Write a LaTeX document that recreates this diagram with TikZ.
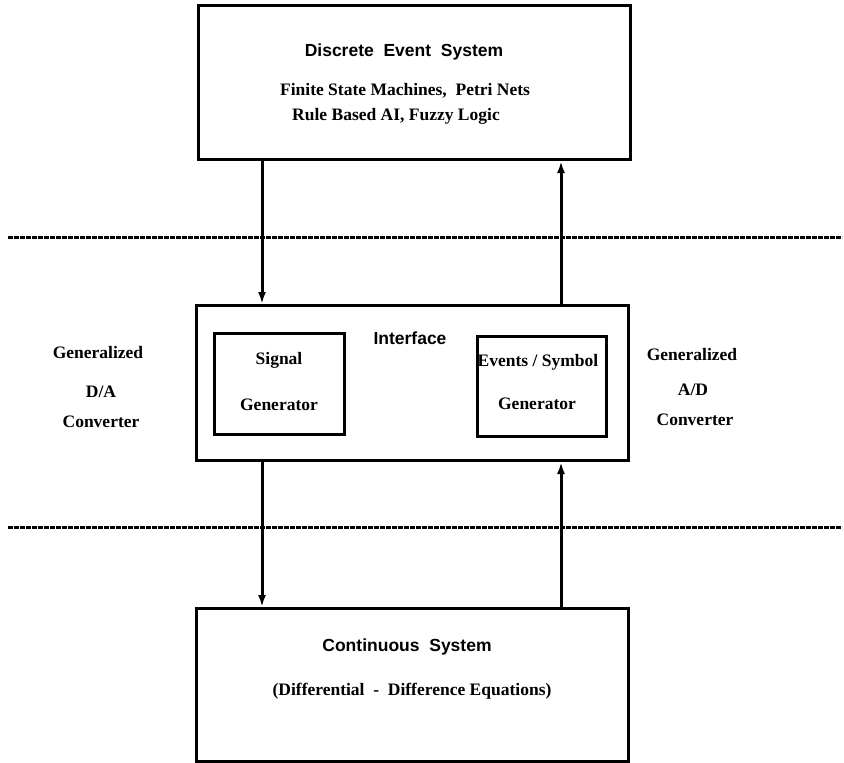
\documentclass[tikz,border=0pt]{standalone}
\usepackage{fontspec}
\setmainfont{Liberation Serif}
\newfontfamily\titlefont{Liberation Sans}
\usetikzlibrary{arrows.meta}
\begin{document}
\begin{tikzpicture}[x=1pt,y=-1pt,
  box/.style={draw, line width=3pt, inner sep=0pt, anchor=north west},
  ttl/.style={font=\titlefont\bfseries\fontsize{17.5}{20}\selectfont},
  txt/.style={font=\bfseries\fontsize{17.5}{20}\selectfont},
  sepline/.style={line width=3pt, dash pattern=on 5pt off 1pt},
  conn/.style={line width=3pt, -{Latex[length=12pt,width=8pt]}}]
\useasboundingbox (0,0) rectangle (844,763);
\fill[white] (0,0) rectangle (844,763);
% boxes
\node[box, minimum width=432pt, minimum height=154pt] (des) at (197,4) {};
\node[box, minimum width=432pt, minimum height=155pt] (ifc) at (195,304) {};
\node[box, minimum width=130pt, minimum height=101pt] (sig) at (213,332) {};
\node[box, minimum width=129pt, minimum height=100pt] (evt) at (476,335) {};
\node[box, minimum width=432pt, minimum height=153pt] (cs) at (195,607) {};
% separators
\coordinate (s1l) at (8,237); \coordinate (s1r) at (842,237);
\coordinate (s2l) at (8,527); \coordinate (s2r) at (842,527);
\draw[sepline, line width=3pt] (s1l) -- (s1r);
\draw[sepline, line width=3pt] (s2l) -- (s2r);
% texts
\node[ttl] (t1) at (404,52) {Discrete\ \ Event\ \ System};
\node[txt] (t2) at (405,91) {Finite State Machines,\ \ Petri Nets};
\node[txt] (t3) at (396,116) {Rule Based AI, Fuzzy Logic};
\node[ttl] (t4) at (410,338) {Interface};
\node[txt] (t5) at (279,360) {Signal};
\node[txt] (t6) at (279,405) {Generator};
\node[txt] (t7) at (538,362) {Events / Symbol};
\node[txt] (t8) at (537,404) {Generator};
\node[txt] (l1) at (98,353) {Generalized};
\node[txt] (l2) at (101,392) {D/A};
\node[txt] (l3) at (101,422) {Converter};
\node[txt] (r1) at (692,355) {Generalized};
\node[txt] (r2) at (693,390) {A/D};
\node[txt] (r3) at (695,420) {Converter};
\node[ttl] (t9) at (407,647) {Continuous\ \ System};
\node[txt] (t10) at (412,691) {(Differential\ \ -\ \ Difference Equations)};
% connectors
\coordinate (xa) at (262,0);
\coordinate (xb) at (561,0);
\draw[conn, line width=3pt] (des.south -| xa) -- (ifc.north -| xa);
\draw[conn, line width=3pt] (ifc.north -| xb) -- (des.south -| xb);
\draw[conn, line width=3pt] (ifc.south -| xa) -- (cs.north -| xa);
\draw[conn, line width=3pt] (cs.north -| xb) -- (ifc.south -| xb);
\end{tikzpicture}
\end{document}
